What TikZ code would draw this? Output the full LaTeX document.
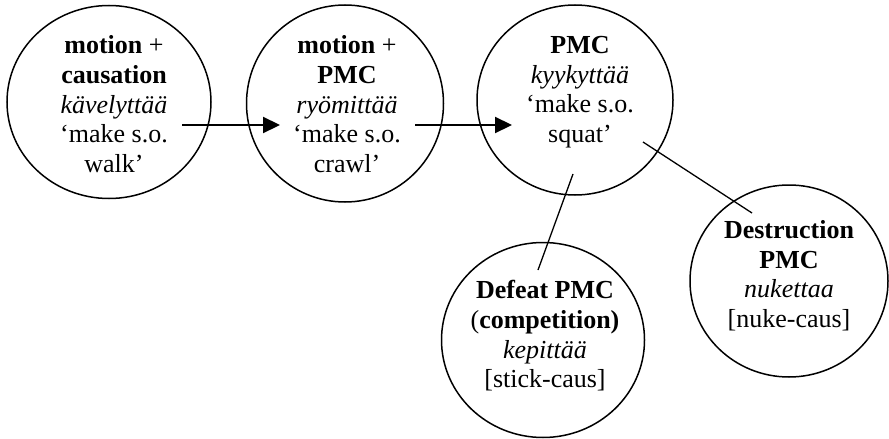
\documentclass[tikz,border=0pt]{standalone}
\usepackage{fontspec}
\setmainfont{Liberation Serif}
\usetikzlibrary{arrows.meta}
\usetikzlibrary{shapes.geometric}
\tikzset{
  bubble/.style={ellipse, draw, line width=1.5pt, inner sep=0pt},
  gloss/.style={align=center, inner sep=0pt, anchor=north, font=\fontsize{26}{29.8}\selectfont},
  arr/.style={line width=2.2pt, -{Triangle[length=17pt,width=16pt]}},
  link/.style={line width=1.3pt},
}

\begin{document}
\begin{tikzpicture}[x=1pt,y=-1pt]
\useasboundingbox (0,0) rectangle (889,439);
% circles
\foreach \n/\x/\y/\w/\h in {kav/109/102/204/193, ryo/345/103.5/197/197, kyy/575/100/196/190, kep/543/340/203/195, nuk/789/281/198/192}{
    \node[bubble, minimum width=\w pt, minimum height=\h pt] (\n) at (\x,\y) {};
}
% texts
\node[gloss] (kavtext) at (114,35.3) {\textbf{motion} +\\ \textbf{causation}\\ \textit{kävelyttää}\\ ‘make s.o.\\ walk’};
\node[gloss] (ryotext) at (347,35.3) {\textbf{motion} +\\ \textbf{PMC}\\ \textit{ryömittää}\\ ‘make s.o.\\ crawl’};
\node[gloss] (kyytext) at (580,35.8) {\textbf{PMC}\\ \textit{kyykyttää}\\ ‘make s.o.\\ squat’};
\node[gloss] (keptext) at (545,280) {\textbf{Defeat PMC}\\ (\textbf{competition)}\\ \textit{kepittää}\\ {[}stick-caus]};
\node[gloss] (nuktext) at (789,220) {\textbf{Destruction}\\ \textbf{PMC}\\ \textit{nukettaa}\\ {[}nuke-caus]};
% connectors
\coordinate (kavout) at (182,125);
\coordinate (ryoin) at (280,125);
\coordinate (ryoout) at (415,125);
\coordinate (kyyin) at (512,125);
\coordinate (kyyfoot) at (573,174);
\coordinate (keptop) at (538,270);
\coordinate (kyyside) at (643,142);
\coordinate (nuktop) at (752,213);
\draw[arr] (kavout) -- (ryoin);
\draw[arr] (ryoout) -- (kyyin);
\draw[link] (kyyfoot) -- (keptop);
\draw[link] (kyyside) -- (nuktop);
\end{tikzpicture}
\end{document}
